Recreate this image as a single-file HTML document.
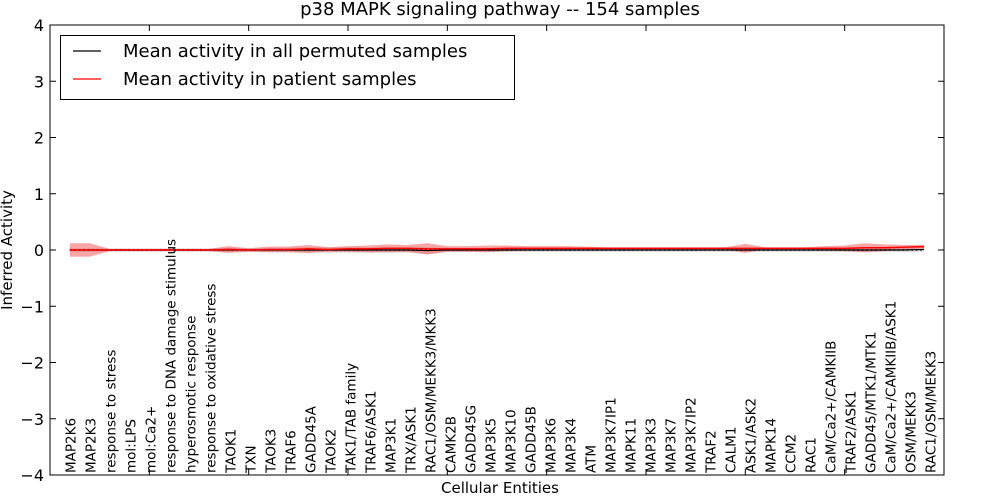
<!DOCTYPE html>
<html><head><meta charset="utf-8"><style>
body{margin:0;background:#fff}
svg{display:block;font-family:"DejaVu Sans","Liberation Sans",sans-serif}
</style></head><body>
<svg id="chart" width="1000" height="500">
<text x="500" y="15" text-anchor="middle" font-size="18">p38 MAPK signaling pathway -- 154 samples</text>
<g id="plot"></g>
<rect x="50" y="25" width="894" height="450" fill="none" stroke="#000" stroke-width="1"/>
<text transform="translate(12,250) rotate(-90)" text-anchor="middle" font-size="15">Inferred Activity</text>
<text x="500" y="493" text-anchor="middle" font-size="15">Cellular Entities</text>
<g>
<rect x="60.5" y="35.5" width="454" height="64" fill="#fff" stroke="#000"/>
<line x1="73" y1="51" x2="101" y2="51" stroke="#000" stroke-width="1.3"/>
<text x="123" y="57" font-size="18">Mean activity in all permuted samples</text>
<line x1="73" y1="79" x2="101" y2="79" stroke="#f00" stroke-width="1.3"/>
<text x="123" y="85" font-size="18">Mean activity in patient samples</text>
</g>
</svg>
<script>
const categories=["MAP2K6","MAP2K3","response to stress","mol:LPS","mol:Ca2+","response to DNA damage stimulus","hyperosmotic response","response to oxidative stress","TAOK1","TXN","TAOK3","TRAF6","GADD45A","TAOK2","TAK1/TAB family","TRAF6/ASK1","MAP3K1","TRX/ASK1","RAC1/OSM/MEKK3/MKK3","CAMK2B","GADD45G","MAP3K5","MAP3K10","GADD45B","MAP3K6","MAP3K4","ATM","MAP3K7IP1","MAPK11","MAP3K3","MAP3K7","MAP3K7IP2","TRAF2","CALM1","ASK1/ASK2","MAPK14","CCM2","RAC1","CaM/Ca2+/CAMKIIB","TRAF2/ASK1","GADD45/MTK1/MTK1","CaM/Ca2+/CAMKIIB/ASK1","OSM/MEKK3","RAC1/OSM/MEKK3"];
const patientMean=[0,0,0,0,0,0,0,0,0.01,0,0.01,0.01,0.02,0.01,0.02,0.02,0.03,0.03,0.02,0.02,0.02,0.02,0.03,0.03,0.03,0.03,0.03,0.03,0.03,0.03,0.03,0.03,0.03,0.03,0.03,0.03,0.03,0.03,0.03,0.03,0.04,0.04,0.05,0.06];
const patientSpread=[0.12,0.12,0.02,0.02,0.02,0.02,0.02,0.02,0.06,0.03,0.05,0.05,0.07,0.04,0.05,0.06,0.07,0.06,0.1,0.05,0.05,0.06,0.05,0.04,0.04,0.04,0.03,0.02,0.02,0.02,0.02,0.02,0.02,0.02,0.08,0.02,0.02,0.02,0.04,0.05,0.08,0.06,0.04,0.03];
const permutedMean=[0,0,0,0,0,0,0,0,0,0,0,0,0,0,0,0,0,0,-0.01,0,0,0,0,0,0,0,0,0,0,0,0,0,0,0,0,0,0,0,0,0,0,0,0,0.01];
const permutedSpread=[0.03,0.03,0.03,0.03,0.03,0.03,0.03,0.03,0.04,0.04,0.04,0.04,0.05,0.05,0.05,0.05,0.05,0.05,0.06,0.04,0.04,0.04,0.04,0.04,0.04,0.04,0.04,0.04,0.04,0.04,0.04,0.04,0.04,0.04,0.04,0.04,0.04,0.04,0.04,0.04,0.04,0.04,0.04,0.04];
const yTicks=[-4,-3,-2,-1,0,1,2,3,4];
const xTicks=[0,5,10,15,20,25,30,35,40,45];
const NS="http://www.w3.org/2000/svg";
const X=v=>50+v*(894/45), Y=v=>250-v*56.25;
const LX=i=>75.4+20*i;
const g=document.getElementById('plot');
function mk(t,a){const e=document.createElementNS(NS,t);for(const k in a)e.setAttribute(k,a[k]);g.appendChild(e);return e;}
function band(m,s,fill,op,name){
 let p=m.map((v,i)=>X(i+1)+','+Y(v+s[i]));
 for(let i=m.length-1;i>=0;i--)p.push(X(i+1)+','+Y(m[i]-s[i]));
 const e=mk('polygon',{points:p.join(' '),fill:fill,'fill-opacity':op});
 
 
}
band(permutedMean,permutedSpread,'#bbb',0.45,'permuted-band');
band(patientMean,patientSpread,'#e00',0.35,'patient-band');
const z=mk('line',{x1:X(1),x2:X(categories.length),y1:Y(0),y2:Y(0),stroke:'#000','stroke-dasharray':'1.5,3','stroke-width':1.5});


const pl=mk('polyline',{points:permutedMean.map((v,i)=>X(i+1)+','+Y(v)).join(' '),fill:'none',stroke:'#000','stroke-width':1.2});


const rl=mk('polyline',{points:patientMean.map((v,i)=>X(i+1)+','+Y(v)).join(' '),fill:'none',stroke:'#f00','stroke-width':1.5});


yTicks.forEach(v=>{
 mk('line',{x1:50,x2:56,y1:Y(v),y2:Y(v),stroke:'#000'});
 mk('line',{x1:938,x2:944,y1:Y(v),y2:Y(v),stroke:'#000'});
 const t=mk('text',{x:44,y:Y(v)+6,'text-anchor':'end','font-size':16});
 t.textContent=(v<0?'\u2212'+(-v):v);
 
 
});
xTicks.forEach(v=>{
 mk('line',{x1:X(v),x2:X(v),y1:25,y2:31,stroke:'#000'});
 mk('line',{x1:X(v),x2:X(v),y1:469,y2:475,stroke:'#000'});
});
categories.forEach((c,i)=>{
 const t=mk('text',{transform:`translate(${LX(i)},473) rotate(-90)`,'font-size':13.5});
 t.textContent=c;
 
 
});
</script>
</body></html>
